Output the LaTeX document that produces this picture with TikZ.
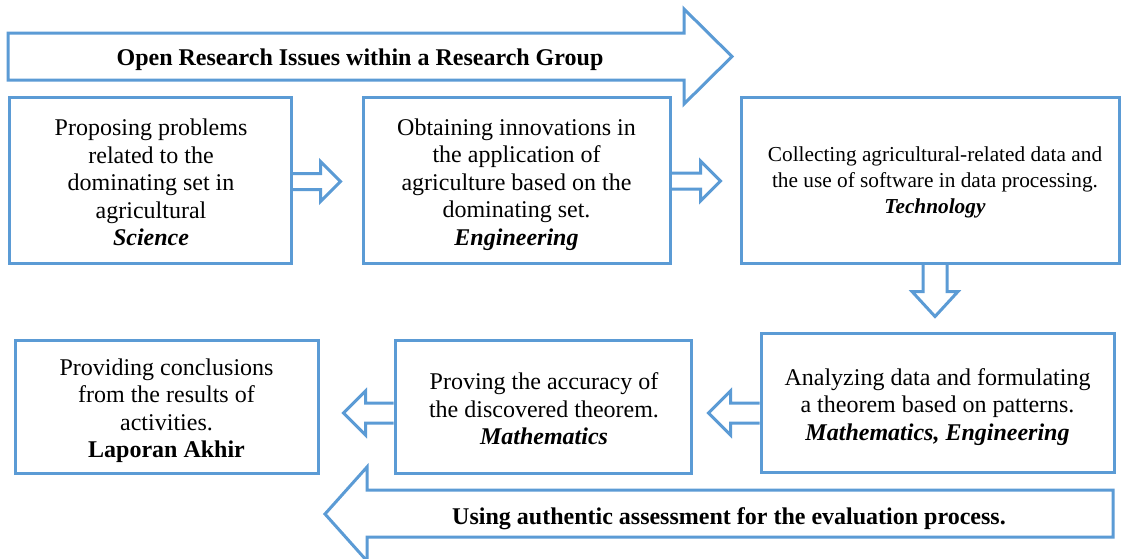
\documentclass[tikz,border=0pt]{standalone}
\usepackage{fontspec}
\setmainfont{Liberation Serif}
\usetikzlibrary{calc}
\definecolor{ablue}{RGB}{91,155,213}
\newcommand\HArrow[4]{%
  \draw[blk] let \p1=#1, \p2=#2, \n1={ifthenelse(\x2>\x1,1,-1)} in
    (\x1,\y2-#3) -- (\x2-\n1*#4,\y2-#3) -- (\x2-\n1*#4,\y2-#4) -- (\x2,\y2)
    -- (\x2-\n1*#4,\y2+#4) -- (\x2-\n1*#4,\y2+#3) -- (\x1,\y2+#3);}
\newcommand\VArrow[5]{%
  \draw[blk] let \p1=#1, \p2=#2 in
    (\x2-#3,\y1) -- (\x2-#3,\y2+#5) -- (\x2-#4,\y2+#5) -- (\x2,\y2)
    -- (\x2+#4,\y2+#5) -- (\x2+#3,\y2+#5) -- (\x2+#3,\y1);}
\begin{document}
\begin{tikzpicture}[x=1pt,y=-1pt,
  box/.style={draw=ablue,line width=3pt,inner sep=0pt},
  txt/.style={align=center,inner sep=0pt,font=\fontsize{24}{27.5}\selectfont},
  blk/.style={draw=ablue,line width=3pt,line join=miter},
  lbl/.style={font=\fontsize{24}{27}\selectfont\bfseries,inner sep=0pt}]
\useasboundingbox (0,0) rectangle (1123,558);
\clip (0,0) rectangle (1123,558);
\fill[white] (0,0) rectangle (1123,558);

% top banner arrow
\draw[blk] (8,33) -- (684,33) -- (684,9) -- (732,56.5) -- (684,104) -- (684,80) -- (8,80) -- cycle;
\node[lbl] (top) at (360,60) {Open Research Issues within a Research Group};

% bottom banner arrow
\draw[blk] (1113,490) -- (367,490) -- (367,467) -- (325,514) -- (367,561) -- (367,537) -- (1113,537) -- cycle;
\node[lbl] (bot) at (729,519) {Using authentic assessment for the evaluation process.};

% boxes
\node[box,minimum width=282,minimum height=166] (b1) at (150,180) {};
\node[txt] (t1) at ($(b1.center)+(1,2.5)$)
  {Proposing problems\\related to the\\dominating set in\\agricultural\\\textbf{\textit{Science}}};
\node[box,minimum width=307,minimum height=166] (b2) at (516.5,180) {};
\node[txt] (t2) at ($(b2.center)+(0,4.5)$)
  {Obtaining innovations in\\the application of\\agriculture based on the\\dominating set.\\\textbf{\textit{Engineering}}};
\node[box,minimum width=378,minimum height=166] (b3) at (930,180) {};
\node[txt,font=\fontsize{21.3}{26}\selectfont] (t3) at ($(b3.center)+(5,2.5)$)
  {Collecting agricultural-related data and\\the use of software in data processing.\\\textbf{\textit{Technology}}};
\node[box,minimum width=353,minimum height=139] (b4) at (937.5,402.5) {};
\node[txt] (t4) at ($(b4.center)+(0,4.5)$)
  {Analyzing data and formulating\\a theorem based on patterns.\\\textbf{\textit{Mathematics, Engineering}}};
\node[box,minimum width=296,minimum height=133] (b5) at (543,406.5) {};
\node[txt] (t5) at ($(b5.center)+(1,2.5)$)
  {Proving the accuracy of\\the discovered theorem.\\\textbf{\textit{Mathematics}}};
\node[box,minimum width=303,minimum height=133] (b6) at (166.5,406.5) {};
\node[txt] (t6) at ($(b6.center)+(0,4)$)
  {Providing conclusions\\from the results of\\activities.\\\textbf{Laporan Akhir}};

% connectors
\coordinate (a1t) at ($(b2.west)+(-21,1.5)$);
\HArrow{(b1.east)}{(a1t)}{8pt}{20pt}
\coordinate (a2t) at ($(b3.west)+(-19,1)$);
\HArrow{(b2.east)}{(a2t)}{8pt}{20pt}
\coordinate (a3t) at ($(b4.north)+(-2.5,-15)$);
\VArrow{(b3.south)}{(a3t)}{12pt}{23pt}{25pt}
\coordinate (a4t) at ($(b5.east)+(16,6.5)$);
\HArrow{(b4.west)}{(a4t)}{10pt}{22pt}
\coordinate (a5t) at ($(b6.east)+(24,6.5)$);
\HArrow{(b5.west)}{(a5t)}{10pt}{22pt}
\end{tikzpicture}
\end{document}
